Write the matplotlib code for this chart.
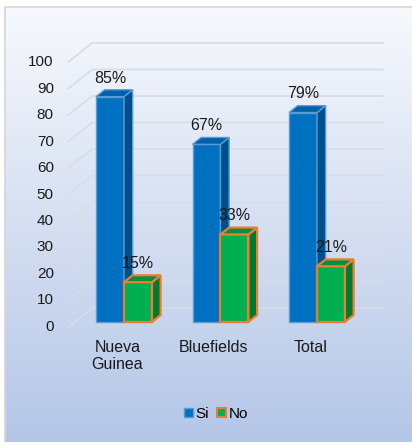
import numpy as np
import matplotlib.pyplot as plt
from matplotlib.patches import Polygon, Patch

# Survey results (%) per site
categories = ['Nueva\nGuinea', 'Bluefields', 'Total']
si_values = [85, 67, 79]
no_values = [15, 33, 21]
si_labels = ['85%', '67%', '79%']
no_labels = ['15%', '33%', '21%']
y_ticks = list(range(0, 101, 10))

plt.rcParams['font.family'] = ['Liberation Sans', 'DejaVu Sans']

# oblique "3D" projection: depth z in [0, 1] shifts right and up
DX = 0.249
DY = 7.17
FLOOR_X0, FLOOR_X1 = -0.51, 2.5
BAR_W = 0.29
Z0, Z1 = 0.27, 0.63


def proj(x, v, z):
    return (x + z * DX, v + z * DY)


def draw_bar(ax, x0, v, front, side, top, edge, lw):
    x1 = x0 + BAR_W
    ax.bar(x0 + Z0 * DX, v, bottom=Z0 * DY, width=BAR_W, align='edge',
           color=front, edgecolor=edge, linewidth=lw, zorder=3)
    side_pts = [proj(x1, 0, Z0), proj(x1, 0, Z1), proj(x1, v, Z1), proj(x1, v, Z0)]
    top_pts = [proj(x0, v, Z0), proj(x1, v, Z0), proj(x1, v, Z1), proj(x0, v, Z1)]
    ax.add_patch(Polygon(side_pts, closed=True, facecolor=side, edgecolor=edge,
                         linewidth=lw, zorder=3))
    ax.add_patch(Polygon(top_pts, closed=True, facecolor=top, edgecolor=edge,
                         linewidth=lw, zorder=3))


fig = plt.figure(figsize=(4.12, 4.42), dpi=100)

# gradient chart area
bg = fig.add_axes([0, 0, 1, 1])
bg.set_xlim(0, 1)
bg.set_ylim(0, 1)
bg.axis('off')
grad = np.linspace(0, 1, 256).reshape(-1, 1, 1)
top_c = np.array([247, 249, 253]) / 255
bot_c = np.array([180, 198, 231]) / 255
img = top_c + (bot_c - top_c) * grad
left, top = 5 / 412, 1 - 7 / 442
bg.imshow(img, extent=(left, 1, 0, top), aspect='auto', origin='upper')
bg.plot([left, left, 1], [0, top, top], color='#d4d6da', lw=1.2)

ax = fig.add_axes([0, 0, 1, 1])
ax.set_xlim(-117.5 / 96.5, (412 - 117.5) / 96.5)
ax.set_ylim(-43.4, 123.4)
ax.axis('off')
ax.patch.set_alpha(0)

# wall gridlines
for v in y_ticks:
    pts = [proj(FLOOR_X0, v, 0), proj(FLOOR_X0, v, 1), proj(FLOOR_X1, v, 1)]
    ax.plot([p[0] for p in pts], [p[1] for p in pts], color='#d8dce4', lw=1.2, zorder=1)
    ax.text(-0.66, v, str(v), ha='right', va='center', fontsize=11, color='#1a1a1a')

for i, (cat, s, n) in enumerate(zip(categories, si_values, no_values)):
    draw_bar(ax, i - BAR_W, s, '#0070c0', '#004f8c', '#0060a8', '#5b9bd5', 1.0)
    draw_bar(ax, i, n, '#00b050', '#007a30', '#009040', '#ed7d31', 1.6)
    ax.text(i - BAR_W / 2 + Z0 * DX, s + Z0 * DY + 7.0, si_labels[i],
            ha='center', va='center', fontsize=11.5, color='#1a1a1a', zorder=4)
    ax.text(i + BAR_W / 2 + Z0 * DX, n + Z0 * DY + 7.0, no_labels[i],
            ha='center', va='center', fontsize=11.5, color='#1a1a1a', zorder=4)
    ax.text(i, -4.9, cat, ha='center', va='top', fontsize=11.5, color='#1a1a1a')

handles = [Patch(facecolor='#0070c0', edgecolor='#5b9bd5', label='Si'),
           Patch(facecolor='#00b050', edgecolor='#ed7d31', lw=1.5, label='No')]
fig.legend(handles=handles, loc='center', bbox_to_anchor=(216 / 412, 1 - 414 / 442),
           ncol=2, frameon=False, fontsize=11, handlelength=0.6, handleheight=0.6,
           handletextpad=0.2, columnspacing=0.5)

fig.savefig('out.png', dpi=100)
